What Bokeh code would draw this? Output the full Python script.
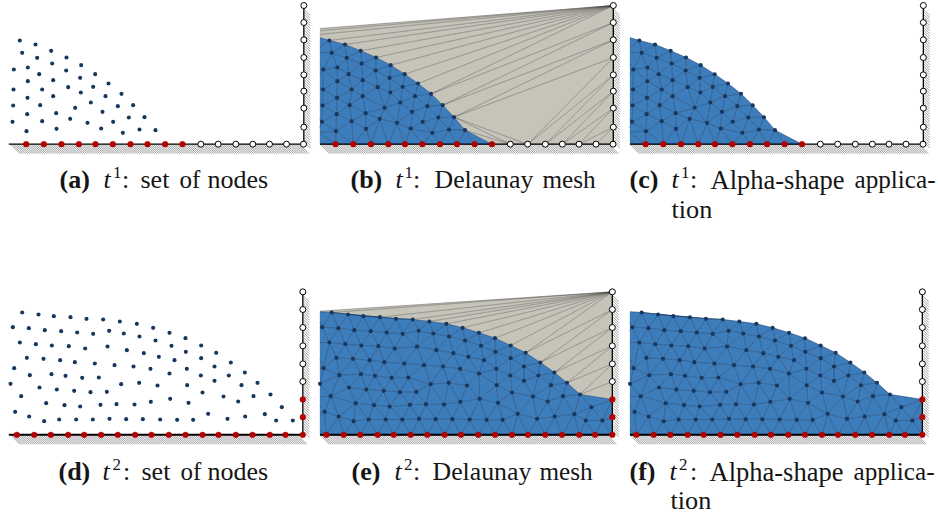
import numpy as np
from bokeh.plotting import figure
from bokeh.models import Range1d, ColumnDataSource
from bokeh.core.properties import value
from bokeh.embed import file_html
from bokeh.resources import INLINE

# ---- Node positions (units: 1/3 px inside a panel) ----
t1_free = [(58,120),(105,132),(152,151),(198,171),(242,194),(284,221),(324,249),(363,280),(398,314),(432,350),(465,389),
           (65,157),(110,172),(155,189),(197,210),(239,232),(278,259),(315,287),(352,317),(385,351),(417,387),
           (40,207),(82,201),(116,221),(158,239),(203,260),(241,276),(271,306),(306,334),(338,364),(367,397),
           (82,242),(39,267),(125,267),(158,287),(81,292),(38,315),(119,314),(224,322),(80,341),(167,338),
           (36,364),(125,362),(209,355),(261,367),(302,384),(78,392),(168,385)]
t1_left_hidden = [(5,104),(-45,97),(-95,94),(10,155),(-5,205),(-5,265),(-8,315),(-10,365),(25,395),(-50,150),(-60,240),(-60,340)]
t1_bottom_red = [-27,25,77,130,183,235,285,337,390,441,494,546]
t1_bottom_white = [601,653,706,757,807,858,909]
t1_wall_white = [15,66,118,171,223,272,323,380]
t1_far_white = [(-150,99.5)]
t1_bottom_far = [-150]
t1_y0, t1_xw = 431, 910

t2_free = [(65,81),(114,87),(160,92),(210,95),(258,100),(308,102),(358,108),(409,115),(458,127),(507,142),(555,158),(602,180),(647,202),(691,231),(733,261),(771,292),(810,327),
           (37,125),(85,128),(133,134),(182,137),(230,141),(278,145),(326,136),(370,144),(417,153),(465,165),(513,181),(556,199),(602,218),(642,243),(685,270),(723,299),(759,332),
           (58,171),(106,176),(154,180),(205,182),(254,189),(321,183),(379,194),(430,203),(475,214),(522,224),
           (79,217),(129,220),(179,224),(223,230),(283,234),(342,239),(399,243),(450,250),(507,264),(559,250),(601,270),(642,286),
           (41,248),(88,269),(153,266),(195,271),(245,277),(295,276),(362,296),(416,292),(471,300),(560,299),
           (30,295),(117,306),(169,312),(221,316),(270,320),(319,319),(606,321),(669,333),(713,348),
           (62,332),(137,353),(192,359),(239,363),(300,358),(348,356),(402,357),(451,349),(509,340),(564,352),
           (44,379),(86,393),(131,407),(176,402),(227,402),(277,402),(327,400),(377,401),(427,401),(479,402),(530,403),(578,403),(623,385),(681,400),(734,393),(793,386),(827,405),(877,405),(844,365)]
t2_left_hidden = [(15,78),(-35,84),(-80,92),(-12,125),(8,171),(-15,217),(-10,250),(-20,295),(12,335),(-6,379),(5,415),(-60,170),(-60,270),(-60,370)]
t2_bottom_red = [-55,-3,49,101,151,203,251,302,352,404,453,505,555,606,654,706,756,808,855,907]
t2_wall_red = [395,342]
t2_wall_white = [19,72,126,181,235,288]
t2_y0, t2_xw = 448, 907

# ---- Caption text ----
caption_bold = ["(a)","(b)","(c)","(d)","(e)","(f)"]
caption_time = ["t","t","t","t","t","t"]
caption_sup = ["1","1","1","2","2","2"]
caption_words = ["set","of","nodes","Delaunay","mesh","Alpha-shape","applica-","tion",
                 "set","of","nodes","Delaunay","mesh","Alpha-shape","applica-","tion"]

# ---- Layout ----
W, H = 938, 515
panel_dx = [0, 309.5, 619.5]
row_dy = [0, 285]
clip_x = 30          # left crop of the mesh panels, panel units
BLUE, GREY, NAVY, RED = "#3e7dbb", "#c6c3b9", "#17375f", "#b30000"
INK = "#151515"
TEXT_SHIFT = 0.3     # rendered baseline sits this many font sizes lower than asked
bold_x = [59,350,629,58,351,629]
bold_y = [187,187,187,479,479,479]
t_x = [103,395,671,102,394,669]
sup_x = [112.5,404,680.5,112,403.5,678.5]
colon_x = [121.5,412.5,689.5,122.5,412.5,689.5]
word_x = [140,179,207,434,542,710,854,671, 141,180,207,432,539,709,853,670]
word_y = [187]*8 + [479]*8
word_y[7] = 217
word_y[15] = 508
word_size = ["26px","25px","26px","25.8px","25.2px","26.5px","25.2px","26.2px"]*2

def delaunay(P):
    n = len(P)
    S = 1e6
    Q = np.vstack([P, [[-S,-S],[S*2,-S],[0,S*2]]])
    def circ(t):
        a,b,c = Q[list(t)]
        bx,by = b-a; cx,cy = c-a
        d = 2*(bx*cy-by*cx)
        if d == 0:
            return (a[0],a[1],np.inf)
        ux = (cy*(bx*bx+by*by)-by*(cx*cx+cy*cy))/d
        uy = (bx*(cx*cx+cy*cy)-cx*(bx*bx+by*by))/d
        return (a[0]+ux, a[1]+uy, ux*ux+uy*uy)
    tris = {(n,n+1,n+2): circ((n,n+1,n+2))}
    for i in range(n):
        p = Q[i]
        bad = [t for t,c in tris.items() if (p[0]-c[0])**2+(p[1]-c[1])**2 < c[2]]
        edges = {}
        for t in bad:
            for e in ((t[0],t[1]),(t[1],t[2]),(t[2],t[0])):
                k = tuple(sorted(e))
                edges[k] = edges.get(k,0)+1
            del tris[t]
        for k,c in edges.items():
            if c == 1:
                t = (k[0],k[1],i)
                tris[t] = circ(t)
    return [t for t in tris if max(t) < n]

def build(free, hidden, bottom_red, bottom_white, bottom_far, wall_red, wall_white, far_white, y0, xw):
    inner = list(free)+list(hidden)
    bottom = list(bottom_far)+list(bottom_red)+list(bottom_white)
    wall = list(wall_red)+list(wall_white)
    lo, hi = min(bottom), max(bottom)
    pts, white = [], []
    for p in inner:
        pts.append(p); white.append(False)
    for x in bottom:
        t = 2*(x-lo)/(hi-lo)-1
        pts.append((x, y0+0.5*(1-t*t)))        # tiny bulge: triangulation only, keeps hull edges
        white.append(x in bottom_far or x in bottom_white)
    top = min(wall)
    for y in wall:
        t = 2*(y-top)/(y0-top)-1
        pts.append((xw+0.5*(1-t*t), y))
        white.append(y in wall_white)
    for p in far_white:
        pts.append(p); white.append(True)
    P = np.array(pts, float)
    tris = delaunay(P)
    return P, np.array(white), tris

def clip_poly(poly, xc):
    out = []
    for i in range(len(poly)):
        a, b = poly[i], poly[(i+1) % len(poly)]
        if a[0] >= xc:
            out.append(a)
        if (a[0] >= xc) != (b[0] >= xc):
            s = (xc-a[0])/(b[0]-a[0])
            out.append((xc, a[1]+s*(b[1]-a[1])))
    return out

p = figure(width=W, height=H, x_range=Range1d(0, W), y_range=Range1d(H, 0),
           output_backend="svg", toolbar_location=None, min_border=0,
           outline_line_color=None, background_fill_color="white", border_fill_color="white")
p.axis.visible = False
p.grid.visible = False

def hatch(dx, dy, y0, xw, top):
    xa, ya = dx+10, dy+y0/3
    xb = dx+xw/3+5.5
    h = 9.5
    xs = []; ys = []
    for x in np.arange(xa, xb-h, 1.9):
        xs.append([x, x+h]); ys.append([ya, ya+h])
    for y in np.arange(dy+top/3+4, ya-2, 2.6):
        xs.append([dx+xw/3+0.5, dx+xw/3+6.5]); ys.append([y, y+6])
    p.multi_line(xs, ys, line_color="#6f6f6f", line_width=0.7, line_alpha=0.9)

def panel(col, row, state, mode, bottom_red, bottom_white, wall_red, wall_white, free, y0, xw, base_w):
    P, white, tris = state
    dx, dy = panel_dx[col], row_dy[row]
    top = min(list(wall_red)+list(wall_white))
    hatch(dx, dy, y0, xw, top)
    X = lambda v: dx+np.asarray(v, float)/3
    Y = lambda v: dy+np.asarray(v, float)/3
    if mode != "nodes":
        bx, by, gx, gy = [], [], [], []
        ex, ey, fx, fy = [], [], [], []
        seen = set()
        for t in tris:
            is_blue = not any(white[list(t)])
            if mode == "alpha" and not is_blue:
                continue
            poly = clip_poly([tuple(P[i]) for i in t], clip_x)
            if len(poly) >= 3:
                xs = [float(X(q[0])) for q in poly]
                ys = [float(Y(q[1])) for q in poly]
                if is_blue:
                    bx.append(xs); by.append(ys)
                else:
                    gx.append(xs); gy.append(ys)
            for e in ((t[0],t[1]),(t[1],t[2]),(t[0],t[2])):
                k = tuple(sorted(e))
                if k in seen:
                    continue
                seen.add(k)
                a, b = P[k[0]], P[k[1]]
                if a[0] < clip_x and b[0] < clip_x:
                    continue
                if a[0] > b[0]:
                    a, b = b, a
                if a[0] < clip_x:
                    s = (clip_x-a[0])/(b[0]-a[0])
                    a = (clip_x, a[1]+s*(b[1]-a[1]))
                xe = [float(X(a[0])), float(X(b[0]))]
                ye = [float(Y(a[1])), float(Y(b[1]))]
                if not is_blue or any(white[list(k)]):
                    fx.append(xe); fy.append(ye)
                else:
                    ex.append(xe); ey.append(ye)
        if gx:
            p.patches(gx, gy, fill_color=GREY, line_color=GREY, line_width=0.3)
        p.patches(bx, by, fill_color=BLUE, line_color=BLUE, line_width=0.3)
        if fx:
            p.multi_line(fx, fy, line_color="#3c3c3c", line_width=0.6, line_alpha=0.6)
        p.multi_line(ex, ey, line_color="#17375f", line_width=0.7, line_alpha=0.65)
    left = 25 if col == 0 else clip_x
    p.line(X([left, xw]), Y([y0, y0]), line_color="black", line_width=base_w)
    p.line(X([xw, xw]), Y([y0, top]), line_color="black", line_width=1.3)
    show = np.array([q for q in free], float)
    p.scatter(X(show[:,0]), Y(show[:,1]), size=4.1, fill_color=NAVY, line_color=NAVY, line_width=0)
    xr = [x for x in bottom_red if x >= clip_x] + [xw]*len(wall_red)
    yr = [y0]*len([x for x in bottom_red if x >= clip_x]) + list(wall_red)
    p.scatter(X(xr), Y(yr), size=5.9, fill_color=RED, line_color=RED, line_width=0.3)
    xw_nodes = list(bottom_white) + [xw]*len(wall_white)
    yw_nodes = [y0]*len(bottom_white) + list(wall_white)
    p.scatter(X(xw_nodes), Y(yw_nodes), size=6.0, fill_color="white", line_color="black", line_width=1.0)

s1 = build(t1_free, t1_left_hidden, t1_bottom_red, t1_bottom_white, t1_bottom_far, [], t1_wall_white, t1_far_white, t1_y0, t1_xw)
s2 = build(t2_free, t2_left_hidden, t2_bottom_red, [], [-150], t2_wall_red, t2_wall_white, [(-150,90)], t2_y0, t2_xw)

for c, mode in enumerate(["nodes", "mesh", "alpha"]):
    panel(c, 0, s1, mode, t1_bottom_red, t1_bottom_white, [], t1_wall_white, t1_free, t1_y0, t1_xw, 1.2)
    panel(c, 1, s2, mode, t2_bottom_red, [], t2_wall_red, t2_wall_white, t2_free, t2_y0, t2_xw, 2.0)

font = value("Liberation Serif")
main_y = [y-TEXT_SHIFT*26 for y in bold_y]
p.text(bold_x, main_y, text=caption_bold, text_font=font, text_font_style="bold", text_font_size="26px",
       text_baseline="alphabetic", text_color=INK)
p.text(t_x, main_y, text=caption_time, text_font=font, text_font_style="italic", text_font_size="26px",
       text_baseline="alphabetic", text_color=INK)
p.text(sup_x, [y-10-TEXT_SHIFT*17 for y in bold_y], text=caption_sup, text_font=font, text_font_size="17px",
       text_baseline="alphabetic", text_color=INK)
p.text(colon_x, main_y, text=[":"]*6, text_font=font, text_font_size="26px",
       text_baseline="alphabetic", text_color=INK)
src = ColumnDataSource(dict(x=word_x, y=[y-TEXT_SHIFT*26 for y in word_y], t=caption_words, s=word_size))
p.text("x", "y", text="t", source=src, text_font=font, text_font_size="s",
       text_baseline="alphabetic", text_color=INK)

open("out.html", "w").write(file_html(p, INLINE))
